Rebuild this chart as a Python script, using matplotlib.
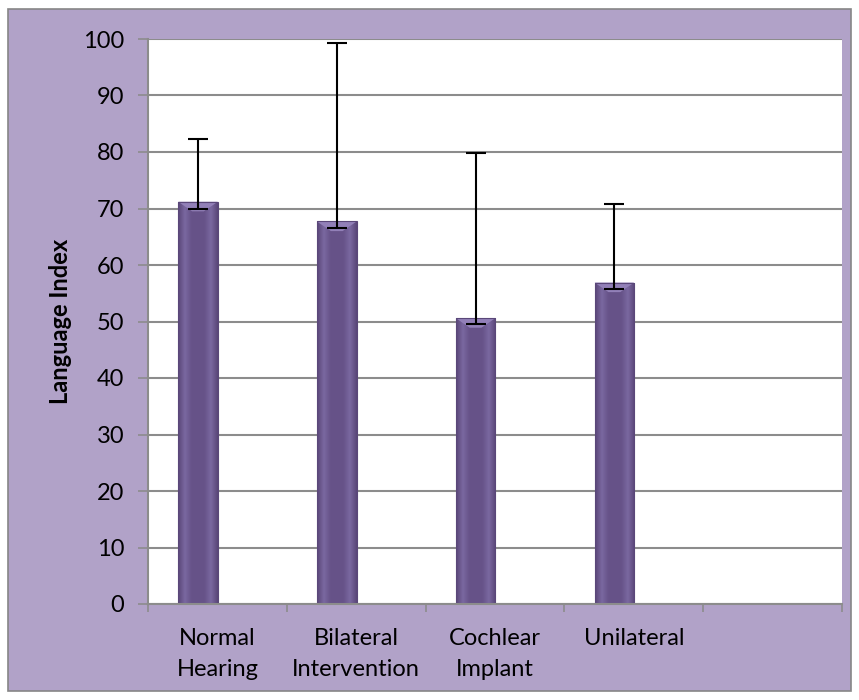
import numpy as np
import matplotlib
matplotlib.use("Agg")
import matplotlib.pyplot as plt
from matplotlib.patches import Rectangle, Polygon
from matplotlib.colors import LinearSegmentedColormap

# data
groups = ["Normal\nHearing", "Bilateral\nIntervention", "Cochlear\nImplant", "Unilateral", ""]
means = [71.2, 67.7, 50.6, 56.9]
err_lo = [1.2, 1.2, 1.1, 1.1]
err_hi = [11.1, 31.6, 29.2, 13.9]

plt.rcParams['font.family'] = ['Lato', 'DejaVu Sans']

fig = plt.figure(figsize=(8.59, 7.0), dpi=100)
fig.patch.set_facecolor('white')
# lavender chart area with gray frame
fig.patches.append(Rectangle((8 / 859, 9 / 700), 843 / 859, 682 / 700, transform=fig.transFigure,
                             facecolor='#B1A2C8', edgecolor='#868686', linewidth=1.2, zorder=-10))

ax = fig.add_axes([148 / 859, 96 / 700, 694 / 859, 565 / 700])
ax.set_facecolor('white')

x = np.arange(len(means)) - 0.14
bw = 0.285
bars = ax.bar(x, means, width=bw, color='#675389', zorder=2)

# horizontal shading on each bar + light bevel at the top
cmap = LinearSegmentedColormap.from_list('bar', ['#5A4779', '#7A68A0', '#675389', '#665288', '#675389', '#7A68A0', '#5A4779'])
grad = np.linspace(0, 1, 64).reshape(1, -1)
for b in bars:
    x0, y0, w, h = b.get_x(), b.get_y(), b.get_width(), b.get_height()
    im = ax.imshow(grad, cmap=cmap, extent=[x0, x0 + w, y0, y0 + h], aspect='auto', zorder=2.1)
    im.set_clip_path(b)
    d = 0.1
    ax.add_patch(Polygon([(x0, y0 + h), (x0 + w, y0 + h), (x0 + w - d, y0 + h - 1.7), (x0 + d, y0 + h - 1.7)],
                         closed=True, facecolor='#9280B8', edgecolor='none', zorder=2.2))
    ax.add_patch(Rectangle((x0, y0), w, h, facecolor='none', edgecolor='#5A4779', linewidth=0.8, zorder=2.3))

ax.errorbar(x, means, yerr=[err_lo, err_hi], fmt='none', ecolor='black',
            elinewidth=1.5, capsize=7, capthick=1.5, zorder=3)

ax.set_xlim(-0.5, len(groups) - 0.5)
ax.set_ylim(0, 100)
ax.set_yticks(np.arange(0, 101, 10))
ax.yaxis.grid(True, color='#8C8C8C', linewidth=1.5, zorder=1)
ax.set_axisbelow(True)

ax.set_xticks(np.arange(len(groups)))
ax.set_xticklabels(groups, fontsize=17, linespacing=1.6)
ax.set_xticks(np.arange(len(groups) + 1) - 0.5, minor=True)
ax.tick_params(axis='x', which='major', length=0, pad=17)
ax.tick_params(axis='x', which='minor', length=6, width=1.2, color='#8C8C8C', direction='out')
ax.tick_params(axis='y', length=7, width=1.2, color='#8C8C8C', direction='out', labelsize=17, pad=10)

for s in ['top', 'right']:
    ax.spines[s].set_visible(False)
for s in ['left', 'bottom']:
    ax.spines[s].set_color('#8C8C8C')
    ax.spines[s].set_linewidth(1.5)

fig.text(60 / 859, 1 - 321 / 700, 'Language Index', rotation=90, ha='center', va='center',
         fontsize=17, fontweight='bold')

fig.savefig('out.png', dpi=100, facecolor=fig.get_facecolor())
